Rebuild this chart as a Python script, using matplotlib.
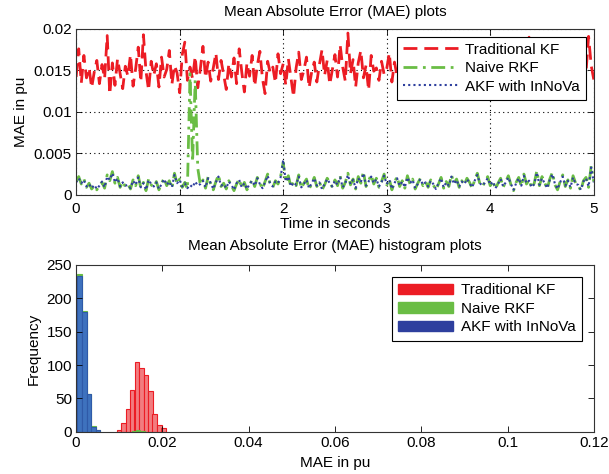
import numpy as np
import matplotlib
matplotlib.use('Agg')
import matplotlib.pyplot as plt
from matplotlib.patches import Patch

plt.rcParams['font.family'] = ['Liberation Sans', 'DejaVu Sans']
plt.rcParams['font.size'] = 11
plt.rcParams['xtick.direction'] = 'in'
plt.rcParams['ytick.direction'] = 'in'

# MAE time series (values in units of 1e-3 pu), sampled every 0.025 s
trad_kf = [
    14.2, 17.6, 13.5, 16.8, 14.1, 15.3, 12.9, 14.8, 16.2, 13.4, 15.7, 14.0, 19.2, 12.1, 15.9, 13.2, 16.4, 14.6, 12.8, 15.5,
    14.3, 16.9, 13.1, 15.2, 17.8, 13.6, 19.3, 14.9, 12.6, 16.1, 14.4, 15.8, 13.0, 16.6, 14.2, 15.1, 17.4, 13.3, 15.6, 14.7,
    12.3, 16.9, 18.4, 13.8, 15.4, 14.0, 16.7, 12.9, 15.2, 17.9, 14.1, 16.0, 13.7, 15.3, 17.1, 13.9, 16.2, 14.5, 12.7, 15.8,
    14.2, 16.5, 13.4, 17.6, 14.8, 12.4, 15.9, 14.3, 16.8, 13.1, 15.6, 17.3, 14.0, 12.2, 16.1, 14.7, 15.4, 13.5, 17.0, 14.6,
    15.8, 13.2, 16.4, 14.1, 11.8, 15.3, 17.2, 13.9, 15.0, 16.6, 12.9, 14.8, 16.0, 13.6, 15.7, 17.5, 14.4, 16.2, 13.3, 15.1,
    16.9, 14.2, 18.1, 15.4, 13.7, 19.5, 14.6, 16.3, 13.0, 15.9, 17.4, 14.1, 15.6, 12.6, 16.8, 14.9, 15.3, 13.8, 16.1, 14.5,
    15.2, 17.1, 13.6, 16.0, 14.3, 15.8, 12.8, 16.4, 14.7, 15.5, 13.9, 17.0, 14.2, 16.3, 13.1, 15.7, 14.6, 16.9, 13.4, 15.0,
    14.1, 16.6, 13.3, 15.4, 17.2, 12.3, 15.9, 14.4, 16.1, 13.7, 15.2, 14.0, 16.8, 13.5, 15.6, 14.8, 12.9, 16.3, 14.5, 15.1,
    13.0, 15.7, 14.3, 16.5, 12.1, 15.0, 17.3, 13.8, 15.9, 14.2, 16.4, 13.6, 15.3, 17.8, 14.5, 19.0, 13.2, 16.0, 18.6, 14.7,
    15.5, 13.4, 16.7, 11.8, 15.1, 14.0, 17.0, 13.7, 16.2, 14.6, 15.8, 12.4, 16.9, 14.3, 15.4, 13.1, 17.5, 14.8, 19.1, 15.6,
    13.9,
]

naive_rkf = [
    1.6, 2.2, 1.3, 1.9, 0.9, 1.4, 0.7, 1.1, 0.6, 1.2, 1.5, 0.8, 2.4, 1.7, 2.8, 1.4, 2.1, 0.9, 1.6, 1.0,
    1.3, 0.7, 1.8, 1.1, 2.3, 0.8, 1.5, 0.5, 1.9, 1.2, 0.9, 1.6, 0.6, 1.4, 2.0, 1.1, 1.7, 0.8, 2.6, 1.3,
    1.9, 0.9, 1.5, 0.7, 14.6, 4.0, 13.8, 3.2, 1.2, 1.8, 0.8, 2.2, 1.3, 0.6, 1.6, 2.4, 1.0, 1.4, 0.7, 1.7,
    1.1, 0.5, 1.3, 1.9, 0.8, 1.5, 0.6, 1.2, 1.8, 1.0, 2.1, 1.4, 0.7, 1.6, 2.5, 1.2, 0.9, 1.7, 1.3, 2.2,
    3.9, 1.5, 2.3, 0.9, 1.6, 1.1, 2.4, 0.8, 1.4, 1.9, 0.7, 1.3, 2.1, 1.0, 1.6, 0.6, 1.2, 2.0, 1.5, 0.9,
    1.8, 1.1, 2.3, 0.8, 1.5, 2.6, 1.2, 1.9, 0.7, 2.2, 1.4, 2.8, 1.0, 1.7, 2.4, 1.3, 2.0, 0.9, 1.6, 2.5,
    1.2, 1.9, 0.6, 1.5, 2.2, 1.0, 1.7, 0.8, 2.3, 1.3, 1.9, 0.7, 1.4, 2.0, 1.1, 1.6, 0.9, 1.8, 1.2, 0.6,
    1.3, 2.1, 0.8, 1.6, 1.0, 2.4, 1.4, 1.9, 0.9, 1.7, 1.2, 2.0, 1.5, 0.8, 1.8, 2.6, 1.3, 1.0, 1.6, 2.2,
    1.1, 1.7, 0.7, 1.4, 2.0, 0.9, 1.6, 2.3, 1.2, 0.5, 1.5, 2.1, 1.0, 2.5, 1.3, 1.8, 0.8, 1.4, 2.9, 1.1,
    2.2, 1.5, 0.7, 1.9, 2.7, 1.2, 0.6, 1.6, 2.4, 1.0, 1.8, 0.8, 2.3, 1.4, 1.1, 0.5, 1.7, 2.1, 0.9, 3.5,
    1.6,
]

akf_innova = [
    1.5, 2.0, 1.4, 1.8, 1.0, 1.3, 0.8, 1.2, 0.7, 1.1, 1.6, 0.9, 2.2, 1.8, 2.6, 1.5, 2.0, 1.0, 1.5, 1.1,
    1.2, 0.8, 1.7, 1.2, 2.1, 0.9, 1.4, 0.6, 1.8, 1.3, 1.0, 1.5, 0.7, 1.3, 1.9, 1.2, 1.6, 0.9, 2.4, 1.4,
    1.8, 1.0, 1.4, 0.8, 1.2, 0.9, 1.6, 1.1, 1.3, 1.7, 0.9, 2.0, 1.4, 0.7, 1.5, 2.2, 1.1, 1.3, 0.8, 1.6,
    1.2, 0.6, 1.4, 1.8, 0.9, 1.4, 0.7, 1.3, 1.7, 1.1, 2.0, 1.3, 0.8, 1.5, 2.3, 1.3, 1.0, 1.6, 1.4, 2.1,
    4.2, 1.6, 2.2, 1.0, 1.5, 1.2, 2.2, 0.9, 1.3, 1.8, 0.8, 1.4, 2.0, 1.1, 1.5, 0.7, 1.3, 1.9, 1.4, 1.0,
    1.7, 1.2, 2.1, 0.9, 1.4, 2.4, 1.3, 1.8, 0.8, 2.0, 1.5, 2.6, 1.1, 1.6, 2.2, 1.4, 1.9, 1.0, 1.5, 2.3,
    1.3, 1.8, 0.7, 1.4, 2.0, 1.1, 1.6, 0.9, 2.1, 1.4, 1.8, 0.8, 1.3, 1.9, 1.2, 1.5, 1.0, 1.7, 1.3, 0.7,
    1.4, 2.0, 0.9, 1.5, 1.1, 2.2, 1.3, 1.8, 1.0, 1.6, 1.3, 1.9, 1.4, 0.9, 1.7, 2.4, 1.4, 1.1, 1.5, 2.0,
    1.2, 1.6, 0.8, 1.3, 1.9, 1.0, 1.5, 2.1, 1.3, 0.6, 1.4, 2.0, 1.1, 2.3, 1.4, 1.7, 0.9, 1.3, 2.7, 1.2,
    2.0, 1.4, 0.8, 1.8, 2.5, 1.3, 0.7, 1.5, 2.2, 1.1, 1.7, 0.9, 2.1, 1.3, 1.2, 0.6, 1.6, 2.0, 1.0, 3.3,
    1.5,
]

# histogram bins (centres in pu) and counts
bin_width = 0.00104
red_centres = [0.0099, 0.0110, 0.0120, 0.0130, 0.0141, 0.0151, 0.0162, 0.0172, 0.0182, 0.0193, 0.0203]
red_counts = [2, 13, 34, 62, 104, 96, 85, 61, 26, 10, 6]
green_centres = [-0.0002, 0.0008, 0.0019, 0.0030, 0.0040, 0.0051, 0.0134, 0.0144, 0.0155]
green_counts = [35, 236, 181, 57, 8, 3, 1, 2, 1]
blue_centres = [-0.0002, 0.0008, 0.0019, 0.0030, 0.0040, 0.0051]
blue_counts = [34, 234, 179, 56, 7, 3]

red = '#ec1c24'
green = '#6abd45'
blue = '#2e3f9e'

fig = plt.figure(figsize=(6.09, 4.74), dpi=100)
ax1 = fig.add_axes([0.125, 0.589, 0.850, 0.350])
ax2 = fig.add_axes([0.125, 0.089, 0.850, 0.352])

series = [
    (trad_kf, red, (0, (5, 2.5)), 2.0, 'Traditional KF'),
    (naive_rkf, green, (0, (5, 2, 1, 2)), 2.0, 'Naive RKF'),
    (akf_innova, blue, (0, (1, 1.5)), 1.5, 'AKF with InNoVa'),
]
for vals, col, ls, lw, lab in series:
    t = np.linspace(0, 5, len(vals))
    ax1.plot(t, np.array(vals) * 1e-3, color=col, linestyle=ls, linewidth=lw, label=lab)

ax1.set_xlim(0, 5)
ax1.set_ylim(0, 0.02)
ax1.set_yticks([0, 0.005, 0.01, 0.015, 0.02])
ax1.set_yticklabels(['0', '0.005', '0.01', '0.015', '0.02'])
ax1.grid(True, linestyle=(0, (1, 3)), color='k', linewidth=0.8)
ax1.set_ylabel('MAE in pu')
ax1.set_title('Mean Absolute Error (MAE) plots', fontsize=11, pad=9)
leg1 = ax1.legend(loc='upper right', fontsize=11, handlelength=3.6, borderaxespad=0.5,
                  fancybox=False, edgecolor='k', framealpha=1, labelspacing=0.3,
                  borderpad=0.4, handletextpad=0.5)
leg1.get_frame().set_linewidth(0.8)

ax2.bar(red_centres, red_counts, width=bin_width, color='#f27c7f', edgecolor=red, linewidth=0.8)
ax2.bar(green_centres, green_counts, width=bin_width, color=green, edgecolor=green, linewidth=0.8)
ax2.bar(blue_centres, blue_counts, width=bin_width, color='#3e72be', edgecolor='#2f5aa8', linewidth=0.8)
ax2.set_xlim(0, 0.12)
ax2.set_ylim(0, 250)
ax2.set_xticks([0, 0.02, 0.04, 0.06, 0.08, 0.1, 0.12])
ax2.set_xticklabels(['0', '0.02', '0.04', '0.06', '0.08', '0.1', '0.12'])
ax2.set_ylabel('Frequency')
ax2.set_title('Mean Absolute Error (MAE) histogram plots', fontsize=11, pad=11)
handles = [Patch(color=red), Patch(color=green), Patch(color=blue)]
leg2 = ax2.legend(handles, ['Traditional KF', 'Naive RKF', 'AKF with InNoVa'], loc='upper right',
                  fontsize=11, handlelength=3.6, borderaxespad=0.8, fancybox=False,
                  edgecolor='k', framealpha=1, labelspacing=0.3, borderpad=0.4, handletextpad=0.5)
leg2.get_frame().set_linewidth(0.8)

for ax in (ax1, ax2):
    ax.tick_params(top=True, right=True, length=4, width=0.6, labelsize=11, pad=3)
    for s in ax.spines.values():
        s.set_linewidth(0.8)
        s.set_color('#333333')
ax1.tick_params(axis='x', pad=5)
ax1.set_xlabel('Time in seconds', labelpad=1)
ax2.set_xlabel('MAE in pu', labelpad=4)

fig.savefig('out.png', dpi=100)
